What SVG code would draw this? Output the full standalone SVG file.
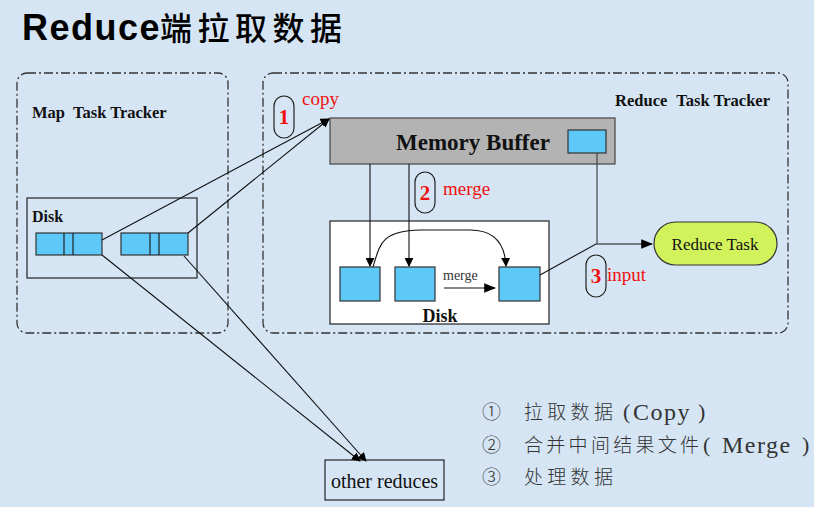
<svg xmlns="http://www.w3.org/2000/svg" width="814" height="507" viewBox="0 0 814 507">
<defs>
<marker id="ah" viewBox="0 0 10 10" refX="9" refY="5" markerWidth="9" markerHeight="9" markerUnits="userSpaceOnUse" orient="auto"><path d="M0,0 L10,5 L0,10 z" fill="#000"/></marker>
<marker id="ahb" viewBox="0 0 10 10" refX="9" refY="5" markerWidth="12" markerHeight="12" markerUnits="userSpaceOnUse" orient="auto"><path d="M0,1 L10,5 L0,9 z" fill="#000"/></marker>
</defs>
<style>
.tracker{fill:none;stroke:#333;stroke-width:1.3;stroke-dasharray:9 3 2 3}
.blue{fill:#5ec8f8;stroke:#333;stroke-width:1.2}
.lbl{font-family:"Liberation Serif",serif;font-weight:bold;fill:#111}
.red{font-family:"Liberation Serif",serif;fill:#f01010;font-size:19px}
.num{font-family:"Liberation Serif",serif;font-weight:bold;fill:#f01010;font-size:21px}
.pill{fill:none;stroke:#222;stroke-width:1.2}
.ln{fill:none;stroke:#111;stroke-width:1.1}
.cjk{font-family:"Noto Sans CJK SC",sans-serif;font-size:19px;font-weight:300;fill:#333}
.lat{font-family:"Liberation Serif",serif;font-size:24px;letter-spacing:1.5px;fill:#333}
.par{font-family:"Liberation Serif",serif;font-size:22px;fill:#333}
</style>
<rect x="0" y="0" width="814" height="507" fill="#d5e5f4"/>
<text x="22" y="40" font-family="Liberation Sans, Arial, sans-serif" font-weight="bold" font-size="36" fill="#000"><tspan letter-spacing="1.5">Reduce</tspan><tspan x="160" font-family="Noto Sans CJK SC, sans-serif" font-weight="500" font-size="32" letter-spacing="5.5">端拉取数据</tspan></text>

<g id="map-tracker">
<rect class="tracker" x="17" y="73" width="211" height="260" rx="10"/>
<text class="lbl" x="32" y="118" font-size="16.5">Map<tspan dx="8">Task Tracker</tspan></text>
</g>
<g id="map-disk">
<rect x="27" y="198" width="170" height="80" fill="none" stroke="#222" stroke-width="1.2"/>
<text class="lbl" x="32" y="222" font-size="16">Disk</text>
<rect class="blue" x="36" y="233" width="66" height="22"/>
<line x1="64" y1="233" x2="64" y2="255" stroke="#222" stroke-width="1.2"/>
<line x1="73" y1="233" x2="73" y2="255" stroke="#222" stroke-width="1.2"/>
<rect class="blue" x="121" y="233" width="67" height="22"/>
<line x1="150" y1="233" x2="150" y2="255" stroke="#222" stroke-width="1.2"/>
<line x1="159" y1="233" x2="159" y2="255" stroke="#222" stroke-width="1.2"/>
</g>

<g id="reduce-tracker">
<rect class="tracker" x="263" y="73" width="525" height="260" rx="10"/>
<text class="lbl" x="770" y="106" font-size="16.5" text-anchor="end">Reduce<tspan dx="9">Task Tracker</tspan></text>
</g>
<g id="memory-buffer">
<rect x="330" y="118" width="285" height="46" fill="#b3b3b3" stroke="#444" stroke-width="1.2"/>
<text class="lbl" x="473" y="150" font-size="23" text-anchor="middle">Memory Buffer</text>
<rect class="blue" x="568" y="130" width="38" height="23"/>
</g>
<g id="reduce-disk">
<rect x="330" y="221" width="219" height="103" fill="#fff" stroke="#222" stroke-width="1.2"/>
<text class="lbl" x="440" y="322" font-size="18" text-anchor="middle">Disk</text>
<rect class="blue" x="340" y="267" width="40" height="34"/>
<rect class="blue" x="395" y="267" width="40" height="34"/>
<rect class="blue" x="499" y="267" width="41" height="34"/>
<text x="443" y="280" font-family="Liberation Serif, serif" font-size="14" fill="#333">merge</text>
</g>
<g id="reduce-task">
<rect x="654" y="222" width="123" height="43" rx="21.5" fill="#d2f25c" stroke="#333" stroke-width="1.2"/>
<text x="715" y="250" font-family="Liberation Serif, serif" font-size="17" text-anchor="middle" fill="#111">Reduce Task</text>
</g>
<g id="other-reduces">
<rect x="325" y="460" width="119" height="40" fill="none" stroke="#222" stroke-width="1.2"/>
<text x="384.500" y="488" font-family="Liberation Serif, serif" font-size="20" text-anchor="middle" fill="#111">other reduces</text>
</g>

<g id="step1">
<rect class="pill" x="274" y="96" width="20" height="42" rx="10"/>
<text class="num" x="284" y="124" text-anchor="middle">1</text>
<text class="red" x="302" y="105">copy</text>
</g>
<g id="step2">
<rect class="pill" x="415" y="172" width="20" height="41" rx="10"/>
<text class="num" x="425" y="200" text-anchor="middle">2</text>
<text class="red" x="443" y="195">merge</text>
</g>
<g id="step3">
<rect class="pill" x="586" y="255" width="20" height="42" rx="10"/>
<text class="num" x="596" y="283" text-anchor="middle">3</text>
<text class="red" x="607" y="281">input</text>
</g>

<g id="connectors">
<line class="ln" x1="102" y1="240" x2="329" y2="119" marker-end="url(#ah)"/>
<line class="ln" x1="188" y1="233" x2="329" y2="119" marker-end="url(#ah)"/>
<line class="ln" x1="102" y1="255" x2="360" y2="461" marker-end="url(#ah)"/>
<line class="ln" x1="184" y1="256" x2="366" y2="461" marker-end="url(#ah)"/>
<line class="ln" x1="370" y1="164" x2="370" y2="266" marker-end="url(#ah)"/>
<line class="ln" x1="409" y1="164" x2="409" y2="266" marker-end="url(#ah)"/>
<path class="ln" d="M373,267 C380,245 380,231 420,230 L470,230 C495,230 505,245 506,266" marker-end="url(#ah)"/>
<line class="ln" x1="444" y1="288" x2="495" y2="288" marker-end="url(#ahb)"/>
<polyline class="ln" points="540,275 596,244 652,244" marker-end="url(#ahb)"/>
<line x1="597" y1="153" x2="597" y2="244" stroke="#444" stroke-width="1.2"/>
</g>

<g id="legend">
<text class="cjk" x="482" y="419">①</text>
<text class="cjk" x="524" y="419" letter-spacing="4.3">拉取数据</text>
<text class="par" x="623" y="419">(</text>
<text class="lat" x="633" y="420">Copy</text>
<text class="par" x="698" y="419">)</text>
<text class="cjk" x="482" y="452">②</text>
<text class="cjk" x="524" y="452" letter-spacing="3.3">合并中间结果文件</text>
<text class="par" x="703" y="452">(</text>
<text class="lat" x="722" y="453">Merge</text>
<text class="par" x="802" y="452">)</text>
<text class="cjk" x="482" y="484">③</text>
<text class="cjk" x="524" y="484" letter-spacing="4.3">处理数据</text>
</g>
</svg>
